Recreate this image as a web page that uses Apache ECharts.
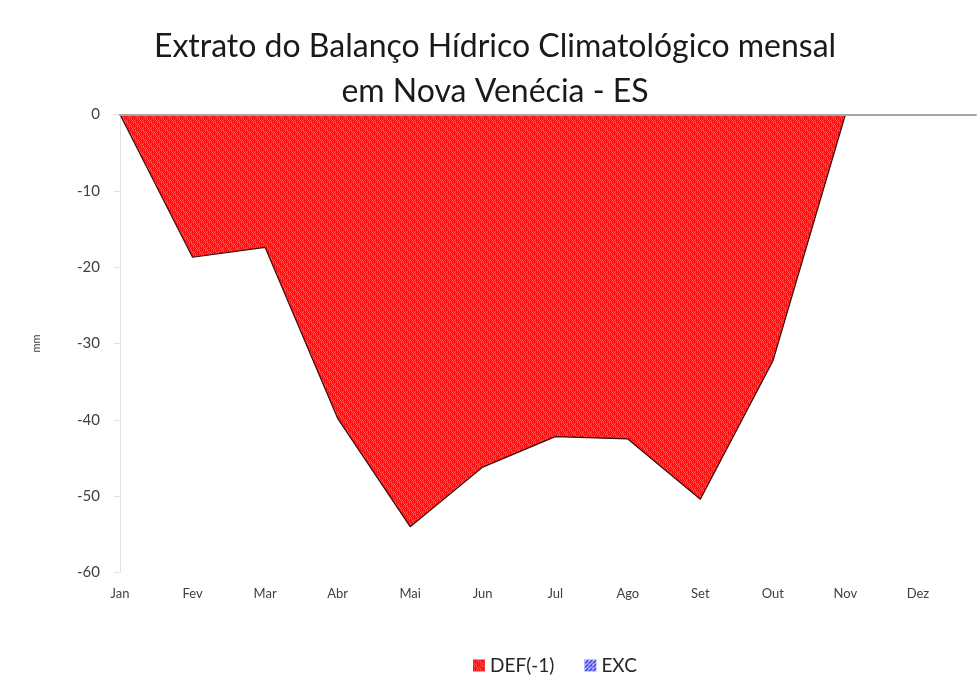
<!DOCTYPE html>
<html>
<head>
<meta charset="utf-8">
<script src="https://cdn.jsdelivr.net/npm/echarts@6/dist/echarts.min.js"></script>
<style>
html,body{margin:0;padding:0;background:#fff;}
#chart{width:979px;height:675px;}
</style>
</head>
<body>
<div id="chart"></div>
<script>
var months = ['Jan','Fev','Mar','Abr','Mai','Jun','Jul','Ago','Set','Out','Nov','Dez'];
var defValues = [0, -18.7, -17.4, -39.8, -54.0, -46.2, -42.2, -42.5, -50.4, -32.3, 0, 0];
var excValues = [0, 0, 0, 0, 0, 0, 0, 0, 0, 0, 0, 0];
var yTicks = [0, -10, -20, -30, -40, -50, -60];

function makeRedPattern(){
  var c = document.createElement('canvas');
  c.width = 8; c.height = 8;
  var g = c.getContext('2d');
  g.fillStyle = '#ff1111';
  g.fillRect(0,0,8,8);
  g.fillStyle = '#ff6060';
  for (var y=0;y<8;y+=2){ for (var x=(y%4===0?0:1);x<8;x+=2){ if ((x<4) !== (y<4)) g.fillRect(x,y,1,1); } }
  g.fillStyle = '#ff4040';
  for (var y2=1;y2<8;y2+=2){ for (var x2=1;x2<8;x2+=2){ g.fillRect(x2,y2,1,1); } }
  return c;
}
function makeBluePattern(){
  var c = document.createElement('canvas');
  c.width = 4; c.height = 4;
  var g = c.getContext('2d');
  g.fillStyle = '#c8c8ff';
  g.fillRect(0,0,4,4);
  g.fillStyle = '#2424e6';
  for (var i=0;i<4;i++){ g.fillRect((3-i+4)%4, i, 2, 1); }
  return c;
}
var redPat = {image: makeRedPattern(), repeat: 'repeat'};
var bluePat = {image: makeBluePattern(), repeat: 'repeat'};

function pairs(vals){ return vals.map(function(v,i){ return [i, v]; }); }

var chart = echarts.init(document.getElementById('chart'), null, {renderer:'canvas'});
chart.setOption({
  animation: false,
  backgroundColor: '#fff',
  textStyle: {fontFamily: 'Lato'},
  title: {
    text: 'Extrato do Balanço Hídrico Climatológico mensal\nem Nova Venécia - ES',
    left: 490, textAlign: 'center', top: 19,
    textStyle: {fontFamily: 'Lato', fontSize: 32, fontWeight: 'normal', color: '#1a1a1a', lineHeight: 45}
  },
  legend: {
    left: 468, top: 651,
    icon: 'rect', itemWidth: 12, itemHeight: 12, itemGap: 30,
    textStyle: {fontFamily: 'Lato', fontSize: 19, color: '#262626'},
    data: ['DEF(-1)', 'EXC']
  },
  grid: {left: 120, right: 0, top: 114.5, bottom: 102.5},
  xAxis: [{
    type: 'value', min: 0, max: 11.8, interval: 1,
    axisLine: {show: false, onZero: false},
    axisTick: {show: false},
    splitLine: {show: false},
    axisLabel: {
      margin: 15, fontSize: 13, color: '#404040', fontFamily: 'Lato',
      formatter: function(v){ return (Math.abs(v - Math.round(v)) < 1e-6 && months[Math.round(v)]) ? months[Math.round(v)] : ''; }
    }
  },{
    type: 'value', min: 0, max: 11.8, position: 'top', z: 10,
    axisLine: {show: true, onZero: false, lineStyle: {color: '#a6a6a6', width: 2}},
    axisTick: {show: false}, axisLabel: {show: false}, splitLine: {show: false}
  }],
  yAxis: {
    type: 'value', min: -60, max: 0, interval: 10,
    name: 'mm', nameLocation: 'middle', nameGap: 78, nameRotate: 90,
    nameTextStyle: {fontSize: 11, color: '#404040'},
    axisLine: {show: true, lineStyle: {color: '#e0e0e0'}},
    axisTick: {show: true, length: 6, lineStyle: {color: '#e0e0e0'}},
    splitLine: {show: false},
    axisLabel: {
      margin: 20, fontSize: 15, color: '#404040', fontFamily: 'Lato',
      formatter: function(v){ return yTicks.indexOf(v) >= 0 ? String(v) : ''; }
    }
  },
  series: [{
    name: 'DEF(-1)', type: 'line', data: pairs(defValues),
    symbol: 'none', z: 3,
    lineStyle: {color: '#3a0b0b', width: 1.2},
    itemStyle: {color: redPat},
    areaStyle: {color: redPat, opacity: 1, origin: 'end'}
  },{
    name: 'EXC', type: 'line', data: pairs(excValues),
    symbol: 'none', z: 2,
    lineStyle: {width: 0, color: '#3333cc'},
    itemStyle: {color: bluePat},
    areaStyle: {color: bluePat, opacity: 1}
  }]
});
</script>
</body>
</html>
